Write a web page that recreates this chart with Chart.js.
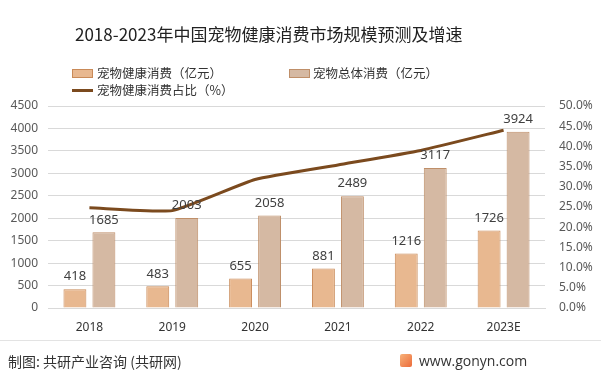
<!DOCTYPE html>
<html>
<head>
<meta charset="utf-8">
<script src="https://cdn.jsdelivr.net/npm/chart.js@4"></script>
<style>
  html, body { margin: 0; padding: 0; background: #fff; }
  #wrap { position: relative; width: 601px; height: 372px; overflow: hidden; font-family: "Noto Sans CJK SC", "Noto Sans", sans-serif; }
  #chart { position: absolute; left: 0; top: 0; }
  .title { position: absolute; left: 75px; top: 21px; font-size: 17px; color: #222; white-space: nowrap; }
  .lg { position: absolute; font-size: 12.5px; color: #333; line-height: 16px; }
  .sw { position: absolute; width: 19px; height: 7px; }
  .ln { position: absolute; width: 21px; height: 3px; background: #7b4a1e; }
  .sep { position: absolute; left: 0; top: 340px; width: 601px; height: 1px; background: #e3e3e3; }
  .foot { position: absolute; top: 351px; font-size: 14px; color: #333; }
  .logo { position: absolute; left: 400px; top: 354px; width: 12px; height: 13px; border-radius: 2px; background: linear-gradient(135deg, #f7b27a, #ec6b3a); }
</style>
</head>
<body>
<div id="wrap">
  <canvas id="chart" width="601" height="372"></canvas>
  <div class="title">2018-2023年中国宠物健康消费市场规模预测及增速</div>
  <div class="sw" style="left:72px;top:69px;background:#e8b890;border:1px solid #c98a58;"></div>
  <div class="lg" style="left:97px;top:65px;">宠物健康消费（亿元）</div>
  <div class="sw" style="left:289px;top:69px;background:#d5b9a3;border:1px solid #bf8f69;"></div>
  <div class="lg" style="left:313px;top:65px;">宠物总体消费（亿元）</div>
  <div class="ln" style="left:72px;top:89px;"></div>
  <div class="lg" style="left:97px;top:82px;">宠物健康消费占比（%）</div>
  <div class="sep"></div>
  <div class="foot" style="left:8px;">制图: 共研产业咨询 (共研网)</div>
  <div class="logo"></div>
  <div class="foot" style="left:419px;font-family:'Open Sans',sans-serif;">www.gonyn.com</div>
</div>
<script>
const years = ['2018', '2019', '2020', '2021', '2022', '2023E'];
const healthSpend = [418, 483, 655, 881, 1216, 1726];
const totalSpend = [1685, 2003, 2058, 2489, 3117, 3924];
const healthShare = [24.8, 24.1, 31.8, 35.4, 39.0, 44.0];

// value labels above the two bar series
const barLabels = {
  id: 'barLabels',
  afterDatasetsDraw(chart) {
    const ctx = chart.ctx;
    ctx.save();
    ctx.font = '13px "Noto Sans", sans-serif';
    ctx.fillStyle = '#404040';
    ctx.textAlign = 'center';
    ctx.textBaseline = 'bottom';
    [1, 2].forEach(i => {
      const meta = chart.getDatasetMeta(i);
      meta.data.forEach((bar, j) => {
        ctx.fillText(chart.data.datasets[i].data[j], bar.x, bar.y - 6);
      });
    });
    ctx.restore();
  }
};

new Chart(document.getElementById('chart'), {
  data: {
    labels: years,
    datasets: [
      {
        type: 'line',
        data: healthShare,
        yAxisID: 'y1',
        borderColor: '#7b4a1e',
        borderWidth: 3,
        pointRadius: 0,
        tension: 0.15,
        order: 0
      },
      {
        type: 'bar',
        data: healthSpend,
        yAxisID: 'y',
        backgroundColor: '#e8b890',
        borderColor: '#c98a58',
        borderWidth: 1,
        categoryPercentage: 0.7,
        barPercentage: 0.79,
        order: 1
      },
      {
        type: 'bar',
        data: totalSpend,
        yAxisID: 'y',
        backgroundColor: '#d5b9a3',
        borderColor: '#bf8f69',
        borderWidth: 1,
        categoryPercentage: 0.7,
        barPercentage: 0.79,
        order: 1
      }
    ]
  },
  options: {
    responsive: false,
    animation: false,
    layout: { padding: { top: 106, bottom: 34, left: 0, right: 0 } },
    plugins: { legend: { display: false }, tooltip: { enabled: false } },
    scales: {
      x: {
        grid: { display: false },
        border: { color: '#d9d9d9' },
        ticks: { color: '#333', font: { size: 12, family: '"Noto Sans", sans-serif' }, padding: 4 },
        afterFit: s => { s.height = 30; }
      },
      y: {
        position: 'left',
        min: 0,
        max: 4500,
        ticks: {
          stepSize: 500,
          color: '#595959',
          font: { size: 12, family: '"Noto Sans", sans-serif' },
          padding: 10,
          callback: v => String(v)
        },
        grid: { color: '#d9d9d9', drawTicks: false },
        border: { display: false },
        afterFit: s => { s.width = 48; }
      },
      y1: {
        position: 'right',
        min: 0,
        max: 50,
        ticks: {
          stepSize: 5,
          color: '#595959',
          font: { size: 12, family: '"Noto Sans", sans-serif' },
          padding: 14,
          callback: v => v.toFixed(1) + '%'
        },
        grid: { display: false, drawTicks: false },
        border: { display: false },
        afterFit: s => { s.width = 56; }
      }
    }
  },
  plugins: [barLabels]
});
</script>
</body>
</html>
